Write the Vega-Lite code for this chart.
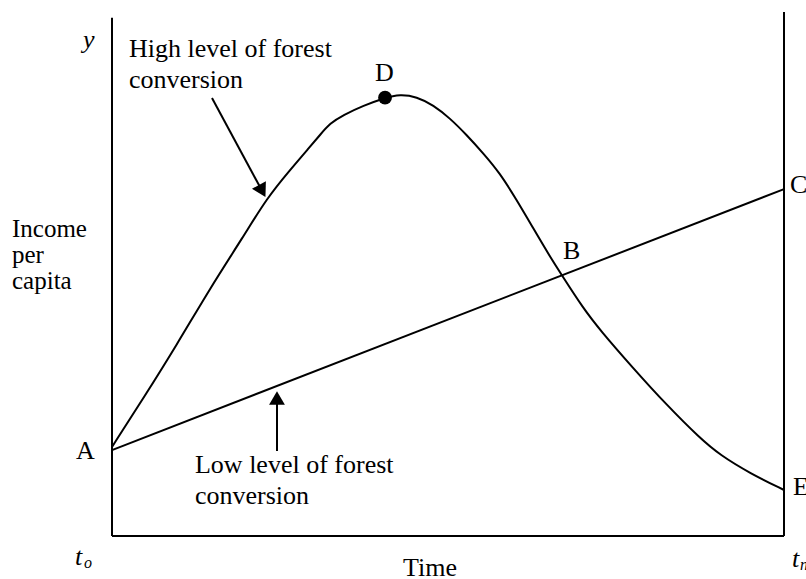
{
  "$schema": "https://vega.github.io/schema/vega-lite/v6.json",
  "width": 672,
  "height": 524,
  "autosize": {"type": "none"},
  "padding": {"left": 112, "top": 12, "right": 22, "bottom": 43},
  "background": "white",
  "config": {"view": {"stroke": null}},
  "datasets": {
    "frame": [
      {"x": 0, "y": 0, "x2": 0, "y2": 98.9},
      {"x": 100, "y": 0, "x2": 100, "y2": 100},
      {"x": 0, "y": 0, "x2": 100, "y2": 0}
    ],
    "low": [
      {"x": 0, "y": 16.4},
      {"x": 100, "y": 66.2}
    ],
    "high": [
      {"x": 0, "y": 17.0},
      {"x": 4.66, "y": 26.28},
      {"x": 9.63, "y": 36.45},
      {"x": 14.58, "y": 47.27},
      {"x": 19.54, "y": 57.12},
      {"x": 23.02, "y": 64.45},
      {"x": 26.49, "y": 69.85},
      {"x": 29.46, "y": 74.29},
      {"x": 30.95, "y": 76.53},
      {"x": 32.44, "y": 78.76},
      {"x": 34.42, "y": 80.34},
      {"x": 37.4, "y": 82.12},
      {"x": 40.63, "y": 83.65},
      {"x": 42.86, "y": 84.29},
      {"x": 45.34, "y": 83.84},
      {"x": 47.81, "y": 82.25},
      {"x": 50.3, "y": 79.71},
      {"x": 52.78, "y": 76.53},
      {"x": 55.25, "y": 73.03},
      {"x": 57.74, "y": 69.22},
      {"x": 60.22, "y": 64.12},
      {"x": 62.69, "y": 58.72},
      {"x": 65.18, "y": 53.3},
      {"x": 66.92, "y": 49.81},
      {"x": 70.13, "y": 43.45},
      {"x": 72.62, "y": 39.31},
      {"x": 77.57, "y": 32.0},
      {"x": 82.54, "y": 25.0},
      {"x": 87.5, "y": 18.65},
      {"x": 90.48, "y": 15.46},
      {"x": 94.94, "y": 11.97},
      {"x": 100, "y": 8.78}
    ],
    "dot": [{"x": 40.63, "y": 83.65}],
    "arrows": [
      {"x": 14.88, "y": 83.59, "x2": 22.35, "y2": 65.84},
      {"x": 24.55, "y": 16.22, "x2": 24.55, "y2": 26.34}
    ],
    "heads": [
      {"x": 22.35, "y": 65.84, "ang": 331.6},
      {"x": 24.55, "y": 26.34, "ang": 180}
    ],
    "labels": [
      {"x": 39.14, "y": 86.83, "t": "D"},
      {"x": -5.36, "y": 14.69, "t": "A"},
      {"x": 67.11, "y": 52.86, "t": "B"},
      {"x": 100.89, "y": 65.46, "t": "C"},
      {"x": 101.34, "y": 7.82, "t": "E"},
      {"x": 43.3, "y": -7.63, "t": "Time"}
    ],
    "tight": [
      {"x": -14.88, "y": 57.06, "t": "Income\nper\ncapita"}
    ],
    "loose": [
      {"x": 2.53, "y": 91.41, "t": "High level of forest\nconversion"},
      {"x": 12.35, "y": 12.02, "t": "Low level of forest\nconversion"}
    ],
    "italic": [
      {"x": -4.32, "y": 93.13, "t": "y"},
      {"x": -5.51, "y": -5.53, "t": "t"},
      {"x": 101.19, "y": -5.92, "t": "t"}
    ],
    "subs": [
      {"x": -4.17, "y": -6.11, "t": "o"},
      {"x": 102.38, "y": -6.49, "t": "n"}
    ]
  },
  "encoding": {
    "x": {"field": "x", "type": "quantitative", "scale": {"domain": [0, 100], "nice": false, "zero": false}, "axis": null},
    "y": {"field": "y", "type": "quantitative", "scale": {"domain": [0, 100], "nice": false, "zero": false}, "axis": null}
  },
  "layer": [
    {
      "data": {"name": "frame"},
      "mark": {"type": "rule", "color": "black", "strokeWidth": 2},
      "encoding": {"x2": {"field": "x2"}, "y2": {"field": "y2"}}
    },
    {
      "data": {"name": "low"},
      "mark": {"type": "line", "color": "black", "strokeWidth": 2},
      "encoding": {}
    },
    {
      "data": {"name": "high"},
      "mark": {"type": "line", "color": "black", "strokeWidth": 2, "interpolate": "basis"},
      "encoding": {}
    },
    {
      "data": {"name": "dot"},
      "mark": {"type": "point", "shape": "circle", "filled": true, "color": "black", "size": 190, "opacity": 1},
      "encoding": {}
    },
    {
      "data": {"name": "arrows"},
      "mark": {"type": "rule", "color": "black", "strokeWidth": 2},
      "encoding": {"x2": {"field": "x2"}, "y2": {"field": "y2"}}
    },
    {
      "data": {"name": "heads"},
      "mark": {"type": "point", "shape": "triangle-down", "filled": true, "color": "black", "size": 250, "opacity": 1},
      "encoding": {"angle": {"field": "ang", "type": "quantitative", "scale": null}}
    },
    {
      "data": {"name": "labels"},
      "mark": {"type": "text", "align": "left", "baseline": "alphabetic", "font": "Liberation Serif", "fontSize": 26, "color": "black"},
      "encoding": {"text": {"field": "t"}}
    },
    {
      "data": {"name": "tight"},
      "mark": {"type": "text", "align": "left", "baseline": "alphabetic", "font": "Liberation Serif", "fontSize": 25, "color": "black", "lineBreak": "\n", "lineHeight": 26},
      "encoding": {"text": {"field": "t"}}
    },
    {
      "data": {"name": "loose"},
      "mark": {"type": "text", "align": "left", "baseline": "alphabetic", "font": "Liberation Serif", "fontSize": 26, "color": "black", "lineBreak": "\n", "lineHeight": 30.5},
      "encoding": {"text": {"field": "t"}}
    },
    {
      "data": {"name": "italic"},
      "mark": {"type": "text", "align": "left", "baseline": "alphabetic", "font": "Liberation Serif", "fontSize": 26, "fontStyle": "italic", "color": "black"},
      "encoding": {"text": {"field": "t"}}
    },
    {
      "data": {"name": "subs"},
      "mark": {"type": "text", "align": "left", "baseline": "alphabetic", "font": "Liberation Serif", "fontSize": 16, "fontStyle": "italic", "color": "black"},
      "encoding": {"text": {"field": "t"}}
    }
  ]
}
